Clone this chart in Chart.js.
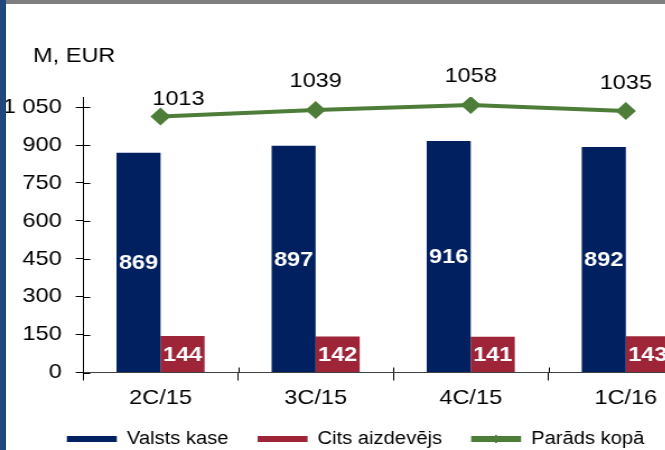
<!DOCTYPE html>
<html>
<head>
<meta charset="utf-8">
<script src="https://cdn.jsdelivr.net/npm/chart.js@4/dist/chart.umd.min.js"></script>
<style>
  html, body { margin: 0; padding: 0; background: #fff; overflow: hidden; width: 665px; height: 450px; }
  #wrap { position: absolute; left: 0; top: 0; transform: scaleX(1.12); transform-origin: 0 0; }
  #topBar { position: absolute; left: 6px; top: 0; width: 700px; height: 4px; background: #7f7f7f; z-index: 2; }
  #leftBar { position: absolute; left: 0; top: 0; width: 6px; height: 450px; background: #1f497d; z-index: 2; }
</style>
</head>
<body>
<div id="topBar"></div>
<div id="leftBar"></div>
<div id="wrap"><canvas id="myChart" width="645" height="458"></canvas></div>
<script>
const categories = ['2C/15', '3C/15', '4C/15', '1C/16'];
const valstsKase = [869, 897, 916, 892];
const citsAizdevejs = [144, 142, 141, 143];
const paradsKopa = [1013, 1039, 1058, 1035];
const yTicks = [0, 150, 300, 450, 600, 750, 900, 1050];
const unitLabel = 'M, EUR';

const FONT = '"Liberation Sans", Arial, sans-serif';
const GREEN = '#4d7d38';

const data = {
  labels: categories,
  datasets: [{
    label: 'Valsts kase',
    data: valstsKase,
    backgroundColor: '#002060',
    order: 1
  }, {
    label: 'Cits aizdevējs',
    data: citsAizdevejs,
    backgroundColor: '#9e2438',
    order: 1
  }, {
    type: 'line',
    label: 'Parāds kopā',
    data: paradsKopa,
    borderColor: GREEN,
    backgroundColor: GREEN,
    borderWidth: 4,
    pointStyle: 'rectRot',
    pointRadius: 9,
    pointBackgroundColor: GREEN,
    pointBorderColor: GREEN,
    pointBorderWidth: 0,
    order: 0
  }]
};

// value labels inside bars and above the line
const valueLabels = {
  id: 'valueLabels',
  afterDatasetsDraw(chart, args, opts) {
    const { ctx } = chart;
    ctx.save();
    ctx.textAlign = 'center';
    ctx.textBaseline = 'middle';
    [0, 1].forEach(i => {
      chart.getDatasetMeta(i).data.forEach((bar, j) => {
        ctx.font = 'bold 21px ' + FONT;
        ctx.fillStyle = '#fff';
        ctx.fillText(chart.data.datasets[i].data[j], bar.x, (bar.y + bar.base) / 2 + 1);
      });
    });
    chart.getDatasetMeta(2).data.forEach((pt, j) => {
      const shift = opts.lineShift[j];
      ctx.font = '21px ' + FONT;
      ctx.fillStyle = '#000';
      ctx.fillText(chart.data.datasets[2].data[j], pt.x + shift[0], pt.y + shift[1]);
    });
    ctx.restore();
  }
};

// tick stubs crossing the axes, unit label, legend diamond
const extras = {
  id: 'extras',
  afterDraw(chart) {
    const { ctx } = chart;
    const ys = chart.scales.y, xs = chart.scales.x;
    ctx.save();
    ctx.strokeStyle = '#000';
    ctx.lineWidth = 1;
    ctx.beginPath();
    yTicks.forEach(v => {
      const py = Math.round(ys.getPixelForValue(v)) + 0.5;
      ctx.moveTo(ys.right, py);
      ctx.lineTo(ys.right + 6.5, py);
    });
    const step = (xs.right - xs.left) / categories.length;
    for (let i = 0; i <= categories.length; i++) {
      const px = Math.round(xs.left + i * step) + 0.5;
      ctx.moveTo(px, xs.top);
      ctx.lineTo(px, xs.top - 5);
    }
    ctx.stroke();

    ctx.font = '21px ' + FONT;
    ctx.fillStyle = '#000';
    ctx.textAlign = 'left';
    ctx.textBaseline = 'alphabetic';
    ctx.fillText(unitLabel, 29.5, 61.5);

    const hb = chart.legend.legendHitBoxes[2];
    if (hb) {
      const cx = hb.left + 22.3, cy = hb.top + hb.height / 2;
      ctx.fillStyle = GREEN;
      ctx.beginPath();
      ctx.moveTo(cx - 4, cy);
      ctx.lineTo(cx, cy - 4.5);
      ctx.lineTo(cx + 4, cy);
      ctx.lineTo(cx, cy + 4.5);
      ctx.closePath();
      ctx.fill();
    }
    ctx.restore();
  }
};

const config = {
  type: 'bar',
  data,
  options: {
    responsive: false,
    devicePixelRatio: 1,
    animation: false,
    categoryPercentage: 0.568,
    barPercentage: 1,
    layout: { padding: { top: 97, left: 0, right: 10, bottom: 0 } },
    scales: {
      x: {
        grid: { drawOnChartArea: false, offset: true, tickLength: 8, tickColor: '#000' },
        border: { color: '#404040', width: 1 },
        ticks: { color: '#000', font: { family: FONT, size: 21 }, padding: 5 },
        afterFit(s) { s.height = 31.5; }
      },
      y: {
        min: 0,
        max: 1090,
        afterBuildTicks(s) { s.ticks = yTicks.map(v => ({ value: v })); },
        grid: { drawOnChartArea: false, tickLength: 6.5, tickColor: '#000' },
        border: { color: '#000', width: 1 },
        ticks: {
          color: '#000',
          font: { family: FONT, size: 21 },
          padding: 12.5,
          callback: v => String(v).replace(/\B(?=(\d{3})+(?!\d))/g, ' ')
        },
        afterFit(s) { s.width = 74.1; }
      },
      yR: {
        position: 'right',
        grid: { display: false },
        border: { display: false },
        ticks: { display: false },
        afterFit(s) { s.width = 7; }
      }
    },
    plugins: {
      tooltip: { enabled: false },
      legend: {
        position: 'bottom',
        labels: {
          boxWidth: 44.6,
          boxHeight: 6,
          padding: 26,
          color: '#000',
          font: { family: FONT, size: 18 },
          sort: (a, b) => a.datasetIndex - b.datasetIndex,
          generateLabels(chart) {
            return Chart.defaults.plugins.legend.labels.generateLabels(chart)
              .map(l => Object.assign(l, { lineWidth: 0 }));
          }
        }
      },
      valueLabels: {
        lineShift: [[16, -17.5], [0, -28.5], [0, -28.5], [0, -28]]
      }
    }
  },
  plugins: [valueLabels, extras]
};

const myChart = new Chart(
  document.getElementById('myChart'),
  config
);
</script>
</body>
</html>
